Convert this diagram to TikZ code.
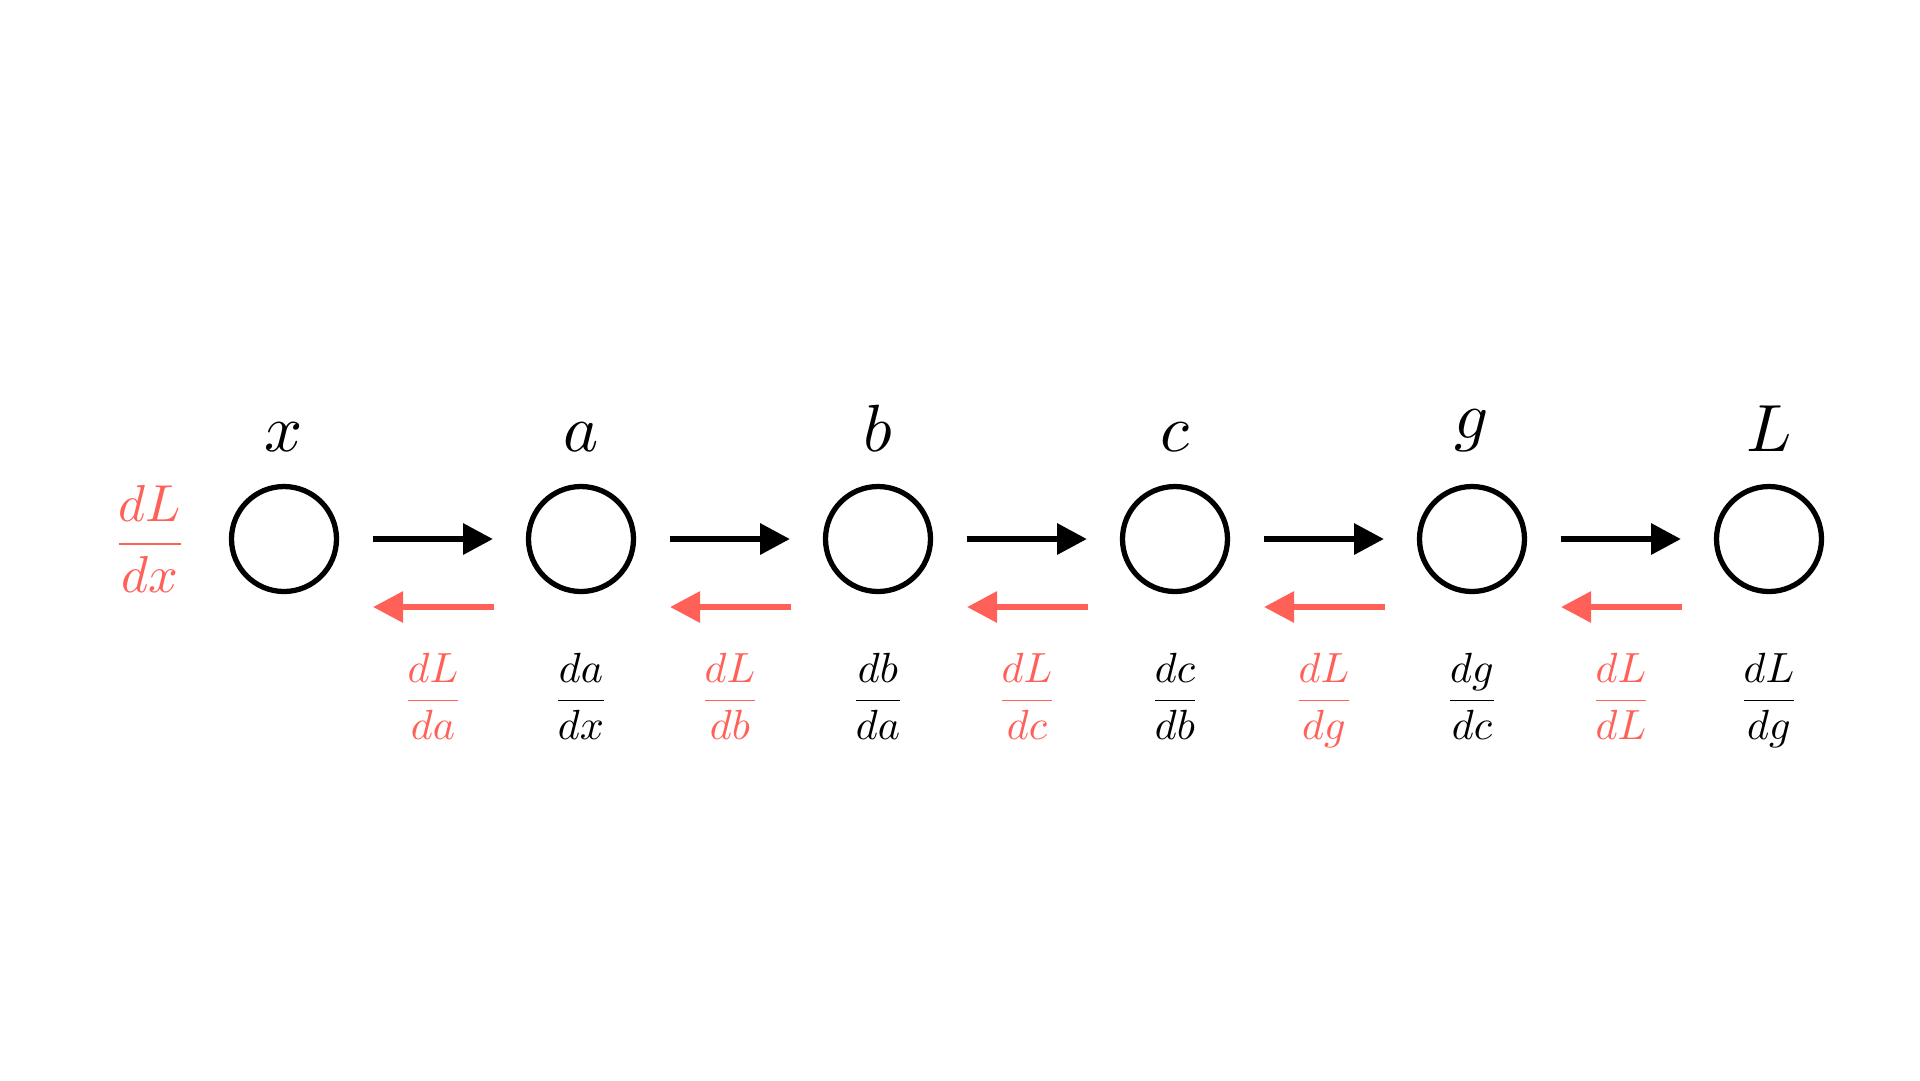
\documentclass[tikz,border=0pt]{standalone}
\DeclareFontShape{OML}{cmm}{m}{it}{<->cmmi10}{}
\DeclareFontShape{OMS}{cmsy}{m}{n}{<->cmsy10}{}
\DeclareFontShape{OT1}{cmr}{m}{n}{<->cmr10}{}
\DeclareFontShape{OMX}{cmex}{m}{n}{<->cmex10}{}
\usetikzlibrary{arrows.meta}
\definecolor{gred}{RGB}{255,97,89}
\begin{document}
\begin{tikzpicture}[x=0.1mm,y=-0.1mm,
  nd/.style={circle,draw=black,line width=1.5pt,minimum size=10.5mm,inner sep=0pt,outer sep=0pt},
  fwd/.style={draw=black,line width=1.85pt,-{Triangle[length=3mm,width=3mm]},shorten <=3.6mm,shorten >=3.55mm},
  bwd/.style={draw=gred,line width=1.7pt,-{Triangle[length=3mm,width=3mm]}},
  toplab/.style={anchor=south,inner sep=0pt,font=\fontsize{19}{22}\selectfont},
  frlab/.style={anchor=base,inner sep=0pt,font=\fontsize{12}{14}\selectfont},
  bigfr/.style={anchor=base,inner sep=0pt,font=\fontsize{14.8}{17}\selectfont,text=gred}
]
\useasboundingbox (0,0) rectangle (1920,1080);
% nodes
\node[nd] (n0) at (284,539) {};
\node[nd] (n1) at (581,539) {};
\node[nd] (n2) at (878,539) {};
\node[nd] (n3) at (1175,539) {};
\node[nd] (n4) at (1472,539) {};
\node[nd] (n5) at (1769,539) {};
% top labels
\node[toplab] (t0) at (284,452) {$x$};
\node[toplab] (t1) at (581,452) {$a$};
\node[toplab] (t2) at (878,452) {$b$};
\node[toplab] (t3) at (1175,452) {$c$};
\node[toplab] (t4) at (1472,452) {$g$};
\node[toplab] (t5) at (1769,452) {$L$};
% forward arrows
\draw[fwd] (n0) -- (n1);
\draw[fwd] (n1) -- (n2);
\draw[fwd] (n2) -- (n3);
\draw[fwd] (n3) -- (n4);
\draw[fwd] (n4) -- (n5);
% backward arrow end points
\foreach \i/\j in {0/1,1/2,2/3,3/4,4/5}{
  \coordinate (rs\j) at ([shift={(-87,68)}]n\j.center);
  \coordinate (re\i) at ([shift={(89,68)}]n\i.center);
}
\draw[bwd] (rs1) -- (re0);
\draw[bwd] (rs2) -- (re1);
\draw[bwd] (rs3) -- (re2);
\draw[bwd] (rs4) -- (re3);
\draw[bwd] (rs5) -- (re4);
% left gradient
\node[bigfr] (gx) at (150,557) {$\displaystyle\frac{dL}{dx}$};
% lower fractions: red gradients
\node[frlab,text=gred] (g1) at (433,711) {$\displaystyle\frac{dL}{da}$};
\node[frlab,text=gred] (g2) at (730,711) {$\displaystyle\frac{dL}{db}$};
\node[frlab,text=gred] (g3) at (1027,711) {$\displaystyle\frac{dL}{dc}$};
\node[frlab,text=gred] (g4) at (1324,711) {$\displaystyle\frac{dL}{dg}$};
\node[frlab,text=gred] (g5) at (1621,711) {$\displaystyle\frac{dL}{dL}$};
% lower fractions: local derivatives
\node[frlab] (d1) at (581,711) {$\displaystyle\frac{da}{dx}$};
\node[frlab] (d2) at (878,711) {$\displaystyle\frac{db}{da}$};
\node[frlab] (d3) at (1175,711) {$\displaystyle\frac{dc}{db}$};
\node[frlab] (d4) at (1472,711) {$\displaystyle\frac{dg}{dc}$};
\node[frlab] (d5) at (1769,711) {$\displaystyle\frac{dL}{dg}$};
\end{tikzpicture}
\end{document}
